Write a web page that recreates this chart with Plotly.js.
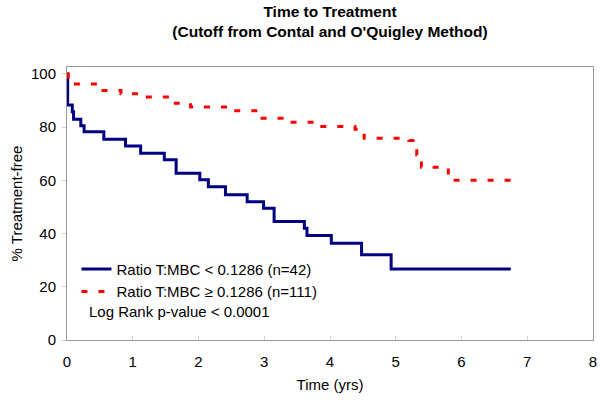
<!DOCTYPE html>
<html>
<head>
<meta charset="utf-8">
<script src="https://cdn.plot.ly/plotly-3.0.1.min.js"></script>
<style>html,body{margin:0;padding:0;background:#fff;}#chart{width:600px;height:403px;}</style>
</head>
<body>
<div id="chart"></div>
<script>
// Kaplan-Meier step data
var lowTimes = [0, 0.01, 0.08, 0.10, 0.21, 0.26, 0.56, 0.89, 1.12, 1.48, 1.66, 2.02, 2.15, 2.41, 2.74, 2.99, 3.15, 3.61, 3.65, 4.02, 4.48, 4.93, 6.75];
var lowSurv  = [100, 88.3, 85.8, 83.0, 80.5, 78.3, 75.4, 72.9, 70.2, 67.7, 62.7, 60.2, 57.6, 54.6, 52.0, 49.5, 44.5, 42.0, 39.3, 36.4, 32.0, 26.7, 26.7];

var highTimes = [0, 0.02, 0.48, 0.82, 1.10, 1.57, 1.88, 2.47, 2.90, 3.32, 3.77, 4.38, 4.52, 5.20, 5.32, 5.39, 5.80, 6.87];
var highSurv  = [100, 96.2, 93.8, 92.5, 91.3, 89.0, 87.6, 86.2, 83.3, 81.8, 80.2, 79.2, 75.8, 75.0, 69.5, 64.9, 60.0, 60.0];

var seriesNames = ['Ratio T:MBC < 0.1286 (n=42)', 'Ratio T:MBC \u2265 0.1286 (n=111)'];
var xTicks = [0, 1, 2, 3, 4, 5, 6, 7, 8];
var yTicks = [0, 20, 40, 60, 80, 100];
var chartTitle = '<b>Time to Treatment</b><br><b>(Cutoff from Contal and O\'Quigley Method)</b>';
var pValueText = 'Log Rank p-value < 0.0001';

var font = 'Arial, "Liberation Sans", sans-serif';

var traces = [
  {x: lowTimes, y: lowSurv, mode: 'lines', line: {shape: 'hv', color: '#000080', width: 3}, name: seriesNames[0]},
  {x: highTimes, y: highSurv, mode: 'lines', line: {shape: 'hv', color: '#FF0000', width: 3, dash: '6px,11px'}, name: seriesNames[1]}
];

var layout = {
  width: 600, height: 403,
  margin: {l: 66.5, r: 7, t: 67, b: 63},
  paper_bgcolor: '#fff', plot_bgcolor: '#fff',
  font: {family: font, size: 15, color: '#000'},
  title: {text: chartTitle, x: 0.5, xref: 'paper', yref: 'container', y: 0.957, yanchor: 'middle', font: {family: font, size: 15.5, color: '#000'}},
  xaxis: {
    range: [0, 8], tickvals: xTicks, ticktext: xTicks.map(String),
    showgrid: false, zeroline: false, showline: true, mirror: true, linecolor: '#9a9a9a', linewidth: 1,
    ticks: 'inside', ticklen: 4, tickcolor: '#d0d0d0', ticklabelstandoff: 8,
    title: {text: 'Time (yrs)', font: {family: font, size: 15}, standoff: 10},
    tickfont: {family: font, size: 15}
  },
  yaxis: {
    range: [0, 102.6], tickvals: yTicks, ticktext: yTicks.map(String),
    showgrid: false, zeroline: false, showline: true, mirror: true, linecolor: '#9a9a9a', linewidth: 1,
    ticks: 'outside', ticklen: 4, tickcolor: '#d0d0d0', ticklabelstandoff: 3,
    title: {text: '% Treatment-free', font: {family: font, size: 15}, standoff: 4},
    tickfont: {family: font, size: 15}
  },
  showlegend: true,
  legend: {x: 0.018, y: 0.32, xanchor: 'left', yanchor: 'top', bgcolor: 'rgba(0,0,0,0)', borderwidth: 0,
    font: {family: font, size: 15}, itemwidth: 30, tracegroupgap: 0},
  annotations: [
    {text: pValueText, xref: 'paper', yref: 'paper', x: 0.038, y: 0.103, xanchor: 'left', yanchor: 'middle', showarrow: false, font: {family: font, size: 15}}
  ]
};

Plotly.newPlot('chart', traces, layout, {displayModeBar: false, staticPlot: true});
</script>
</body>
</html>
